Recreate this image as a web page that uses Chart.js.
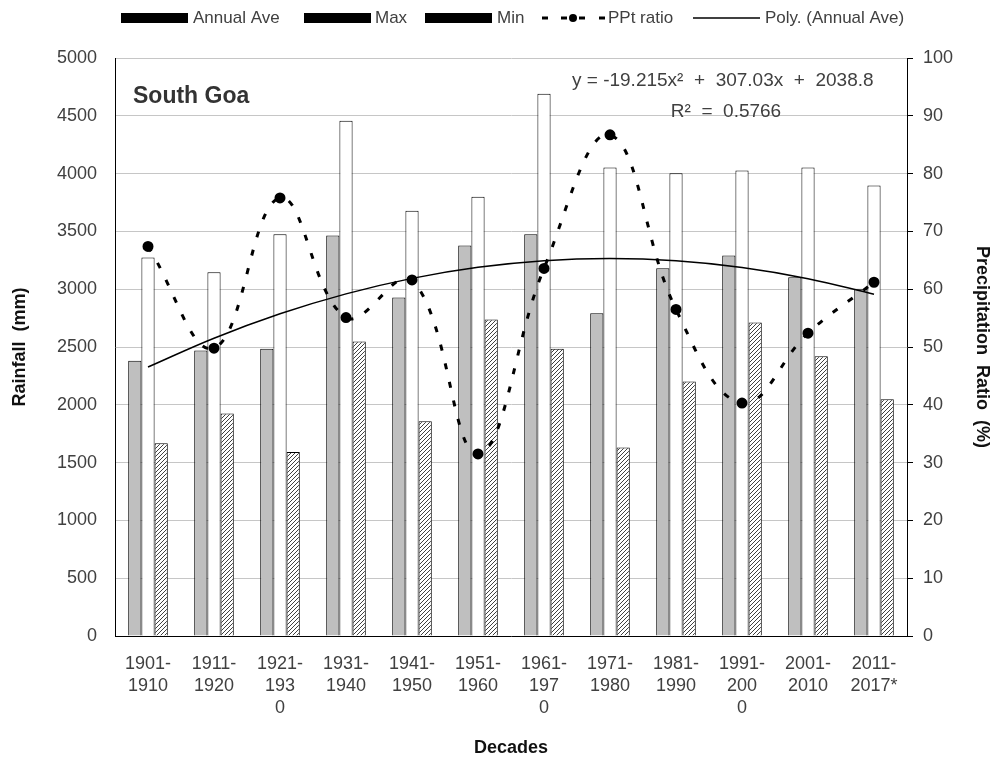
<!DOCTYPE html>
<html>
<head>
<meta charset="utf-8">
<script src="https://cdn.jsdelivr.net/npm/chart.js@4"></script>
<style>
  html, body { margin: 0; padding: 0; background: #fff; }
  canvas { display: block; }
</style>
</head>
<body>
<canvas id="rain" width="993" height="760"></canvas>
<script>
// Decadal rainfall statistics for South Goa
const decades = [
  ['1901-', '1910'], ['1911-', '1920'], ['1921-', '193', '0'], ['1931-', '1940'],
  ['1941-', '1950'], ['1951-', '1960'], ['1961-', '197', '0'], ['1971-', '1980'],
  ['1981-', '1990'], ['1991-', '200', '0'], ['2001-', '2010'], ['2011-', '2017*']
];
const annualAve = [2382, 2469, 2484, 3464, 2928, 3378, 3476, 2792, 3182, 3291, 3104, 3003];
const maxRain   = [3274, 3147, 3476, 4457, 3678, 3799, 4690, 4053, 4004, 4027, 4053, 3897];
const minRain   = [1667, 1924, 1592, 2547, 1858, 2737, 2484, 1630, 2201, 2712, 2420, 2048];
const pptRatio  = [67.4, 49.8, 75.8, 55.1, 61.6, 31.5, 63.6, 86.7, 56.5, 40.3, 52.4, 61.2];
// second-order polynomial trend of the annual average (y = -19.215x² + 307.03x + 2038.8)
const polyAnnualAve = [2326.6, 2576.0, 2787.0, 2959.5, 3093.6, 3189.2, 3246.5, 3265.3, 3245.7, 3187.6, 3091.1, 2956.2];
const rainfallTicks = { min: 0, max: 5000, step: 500 };
const ratioTicks = { min: 0, max: 100, step: 10 };

const FONT = '"Liberation Sans", Arial, sans-serif';
const TEXT = '#404040';

// diagonal hatch used for the minimum bars
function hatchPattern() {
  const c = document.createElement('canvas');
  c.width = 4; c.height = 4;
  const g = c.getContext('2d');
  g.fillStyle = '#fff';
  g.fillRect(0, 0, 4, 4);
  g.strokeStyle = '#404040';
  g.lineWidth = 1;
  g.beginPath();
  g.moveTo(0, 4); g.lineTo(4, 0);
  g.moveTo(-1, 1); g.lineTo(1, -1);
  g.moveTo(3, 5); g.lineTo(5, 3);
  g.stroke();
  return g.createPattern(c, 'repeat');
}

// legend, panel title and trend equation
const overlay = {
  id: 'overlay',
  afterDraw(chart) {
    const ctx = chart.ctx;
    const ds = chart.data.datasets;
    const byLabel = l => ds.find(d => d.label === l);
    ctx.save();
    ctx.fillStyle = TEXT;
    ctx.textBaseline = 'middle';
    ctx.textAlign = 'left';
    ctx.font = '17px ' + FONT;
    const ly = 18;
    // bar entries
    [[121, 193, 'Annual Ave'], [304, 375, 'Max'], [425, 497, 'Min']].forEach(([bx, tx, l]) => {
      ctx.fillStyle = '#000';
      ctx.fillRect(bx, ly - 5, 67, 10);
      ctx.fillStyle = TEXT;
      ctx.fillText(byLabel(l).label, tx, ly);
    });
    // dashed ratio entry
    ctx.strokeStyle = '#000';
    ctx.lineWidth = 3;
    [[542, 548], [561, 567], [579, 585], [599, 605]].forEach(([a, b]) => {
      ctx.beginPath(); ctx.moveTo(a, ly); ctx.lineTo(b, ly); ctx.stroke();
    });
    ctx.fillStyle = '#000';
    ctx.beginPath(); ctx.arc(573, ly, 4, 0, Math.PI * 2); ctx.fill();
    ctx.fillStyle = TEXT;
    ctx.fillText(byLabel('PPt ratio').label, 608, ly);
    // trend entry
    ctx.lineWidth = 1.5;
    ctx.beginPath(); ctx.moveTo(693, ly); ctx.lineTo(760, ly); ctx.stroke();
    ctx.fillText(byLabel('Poly. (Annual Ave)').label, 765, ly);

    // panel title
    ctx.fillStyle = '#333';
    ctx.font = 'bold 23px ' + FONT;
    ctx.fillText('South Goa', 133, 97);

    // trend equation
    ctx.fillStyle = TEXT;
    ctx.font = '19px ' + FONT;
    ctx.fillText('y = -19.215x\u00B2  +  307.03x  +  2038.8', 572, 81);
    ctx.textAlign = 'center';
    ctx.fillText('R\u00B2  =  0.5766', 726, 112);
    ctx.restore();
  }
};

const tickFont = { family: FONT, size: 18, lineHeight: 1.22 };
const titleFont = { family: FONT, size: 18, weight: 'bold', lineHeight: 1.2 };

new Chart(document.getElementById('rain'), {
  type: 'bar',
  data: {
    labels: decades,
    datasets: [
      {
        type: 'line', label: 'PPt ratio', data: pptRatio, yAxisID: 'yRatio',
        borderColor: '#000', borderWidth: 3, borderDash: [6, 13],
        pointRadius: 4, pointBackgroundColor: '#000', pointBorderColor: '#000',
        tension: 0.4, fill: false, order: 0
      },
      {
        type: 'line', label: 'Poly. (Annual Ave)', data: polyAnnualAve, yAxisID: 'y',
        borderColor: '#000', borderWidth: 1.5, pointRadius: 0,
        tension: 0.4, fill: false, order: 0
      },
      { label: 'Annual Ave', data: annualAve, yAxisID: 'y', backgroundColor: '#bfbfbf', borderColor: '#000', borderWidth: 1, order: 1 },
      { label: 'Max', data: maxRain, yAxisID: 'y', backgroundColor: '#fff', borderColor: '#000', borderWidth: 1, order: 1 },
      { label: 'Min', data: minRain, yAxisID: 'y', backgroundColor: hatchPattern(), borderColor: '#000', borderWidth: 1, order: 1 }
    ]
  },
  options: {
    responsive: false,
    animation: false,
    devicePixelRatio: 1,
    layout: { padding: { top: 58, left: 0, right: 0, bottom: 0 } },
    datasets: { bar: { categoryPercentage: 0.6, barPercentage: 1.0 } },
    plugins: { legend: { display: false }, tooltip: { enabled: false } },
    scales: {
      x: {
        grid: { display: false, drawTicks: false },
        border: { display: true, color: '#000', width: 1 },
        ticks: { font: tickFont, color: TEXT, padding: 17, maxRotation: 0, autoSkip: false },
        title: { display: true, text: 'Decades', font: titleFont, color: '#111', padding: { top: 0, bottom: 1 } },
        afterFit(s) { s.height = 124; }
      },
      y: {
        position: 'left',
        min: rainfallTicks.min, max: rainfallTicks.max,
        ticks: { stepSize: rainfallTicks.step, font: tickFont, color: TEXT, padding: 18, callback: v => String(v) },
        grid: { color: '#c6c6c6', drawTicks: false },
        border: { color: '#000', width: 1 },
        title: { display: true, text: 'Rainfall  (mm)', font: titleFont, color: '#111', padding: { top: 9, bottom: 0 } },
        afterFit(s) { s.width = 115; }
      },
      yRatio: {
        position: 'right',
        min: ratioTicks.min, max: ratioTicks.max,
        ticks: { stepSize: ratioTicks.step, font: tickFont, color: TEXT, padding: 10, callback: v => String(v) },
        grid: { drawOnChartArea: false, drawTicks: true, tickLength: 6, color: '#000' },
        border: { color: '#000', width: 1 },
        title: { display: true, text: 'Precipitation  Ratio  (%)', font: titleFont, color: '#111', padding: { top: 0, bottom: 0 } },
        afterFit(s) { s.width = 86; }
      }
    }
  },
  plugins: [overlay]
});
</script>
</body>
</html>
